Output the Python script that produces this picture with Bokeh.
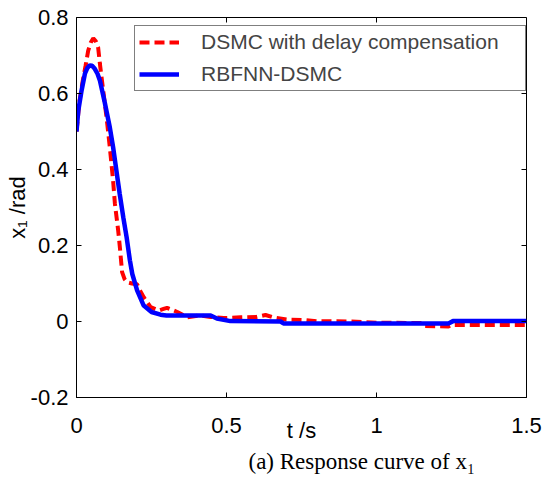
from bokeh.plotting import figure
from bokeh.models import Range1d, FixedTicker, Legend, LegendItem, Title
from bokeh.embed import file_html
from bokeh.resources import INLINE

# ---- data ----
t_dsmc = [0, 0.01, 0.02, 0.03, 0.039, 0.048, 0.056, 0.064, 0.072, 0.078, 0.089, 0.1,
          0.111, 0.122, 0.128, 0.139, 0.144, 0.152, 0.16, 0.169, 0.185, 0.202, 0.213,
          0.224, 0.247, 0.274, 0.29, 0.302, 0.336, 0.369, 0.413, 0.447, 0.491, 0.547,
          0.6, 0.63, 0.66, 0.7, 0.76, 0.8, 0.91, 1.0, 1.15, 1.16, 1.24, 1.25, 1.5]
x1_dsmc = [0.5, 0.58, 0.63, 0.672, 0.713, 0.735, 0.745, 0.738, 0.722, 0.678, 0.608, 0.538,
           0.459, 0.371, 0.31, 0.239, 0.2, 0.13, 0.112, 0.103, 0.1, 0.098, 0.08,
           0.064, 0.038, 0.029, 0.033, 0.036, 0.025, 0.011, 0.016, 0.012, 0.009, 0.011,
           0.012, 0.017, 0.01, 0.005, 0.004, 0.001, 0.0, -0.003, -0.004, -0.012, -0.013, -0.009, -0.009]

t_rbf = [0, 0.006, 0.017, 0.028, 0.036, 0.044, 0.052, 0.061, 0.07, 0.078, 0.094, 0.111,
         0.122, 0.133, 0.144, 0.156, 0.167, 0.178, 0.186, 0.202, 0.224, 0.25, 0.28, 0.3,
         0.447, 0.468, 0.513, 0.68, 0.69, 1.24, 1.255, 1.5]
x1_rbf = [0.5, 0.555, 0.608, 0.652, 0.667, 0.674, 0.673, 0.665, 0.652, 0.634, 0.577, 0.511,
          0.459, 0.397, 0.336, 0.274, 0.222, 0.161, 0.125, 0.082, 0.042, 0.025, 0.018, 0.016,
          0.016, 0.008, 0.001, 0.0, -0.005, -0.005, 0.001, 0.001]

series_names = ["DSMC with delay compensation", "RBFNN-DSMC"]
x_ticks = [0, 0.5, 1, 1.5]
x_tick_labels = ["0", "0.5", "1", "1.5"]
y_ticks = [-0.2, 0, 0.2, 0.4, 0.6, 0.8]
y_tick_labels = ["-0.2", "0", "0.2", "0.4", "0.6", "0.8"]
x_label = "t /s"
y_label = "x\u2081 /rad"
caption = "(a) Response curve of x\u2081"

SANS = "Liberation Sans"
SERIF = "Liberation Serif"

x_lo, x_hi = x_ticks[0], x_ticks[-1]
y_lo, y_hi = y_ticks[0], y_ticks[-1]

p = figure(width=548, height=478, output_backend="svg", toolbar_location=None,
           x_range=Range1d(x_lo, x_hi), y_range=Range1d(y_lo, y_hi),
           min_border_left=76, min_border_right=22, min_border_top=17, min_border_bottom=81,
           x_axis_label=x_label, y_axis_label=y_label)
p.grid.visible = False
p.outline_line_color = "black"
p.outline_line_width = 1
p.background_fill_color = "white"
p.border_fill_color = "white"

r_red = p.line(t_dsmc, x1_dsmc, line_color="#ff0000", line_width=4, line_dash="10 5")
r_blue = p.line(t_rbf, x1_rbf, line_color="#0000ff", line_width=4.5)

# inward ticks on the top and right edges of the box
p.ray(x=x_ticks, y=[y_hi] * len(x_ticks), length=5, length_units="screen",
      angle=-90, angle_units="deg", line_color="black", line_width=1)
p.ray(x=[x_hi] * len(y_ticks), y=y_ticks, length=5, length_units="screen",
      angle=180, angle_units="deg", line_color="black", line_width=1)

# main axes
xa = p.xaxis[0]
ya = p.yaxis[0]
xa.ticker = FixedTicker(ticks=x_ticks)
ya.ticker = FixedTicker(ticks=y_ticks)
xa.major_label_overrides = {v: s for v, s in zip(x_ticks, x_tick_labels)}
ya.major_label_overrides = {v: s for v, s in zip(y_ticks, y_tick_labels)}

for ax in (xa, ya):
    ax.major_tick_in = 5
    ax.major_tick_out = 0
    ax.minor_tick_line_color = None
    ax.axis_line_color = "black"
    ax.major_tick_line_color = "black"
    ax.major_label_text_font = SANS
    ax.major_label_text_font_size = "22px"
    ax.major_label_text_color = "black"
    ax.axis_label_text_font = SANS
    ax.axis_label_text_font_size = "22px"
    ax.axis_label_text_font_style = "normal"
    ax.axis_label_text_color = "black"

xa.major_label_standoff = 20
xa.axis_label_standoff = -18
ya.major_label_standoff = 8
ya.axis_label_standoff = -2

legend = Legend(items=[LegendItem(label=series_names[0], renderers=[r_red]),
                       LegendItem(label=series_names[1], renderers=[r_blue])],
                location=(58, 306), margin=0, padding=4, spacing=8,
                glyph_width=40, glyph_height=20, label_height=20, label_standoff=22,
                label_width=320, label_text_font=SANS, label_text_font_size="21px",
                border_line_color="black", border_line_width=1,
                background_fill_color="white", background_fill_alpha=1)
p.add_layout(legend, "center")

cap = Title(text=caption, align="left", offset=172, text_font=SERIF,
            text_font_size="23px", text_font_style="normal", text_color="black", standoff=2)
p.add_layout(cap, "below")

open("out.html", "w").write(file_html(p, INLINE))
